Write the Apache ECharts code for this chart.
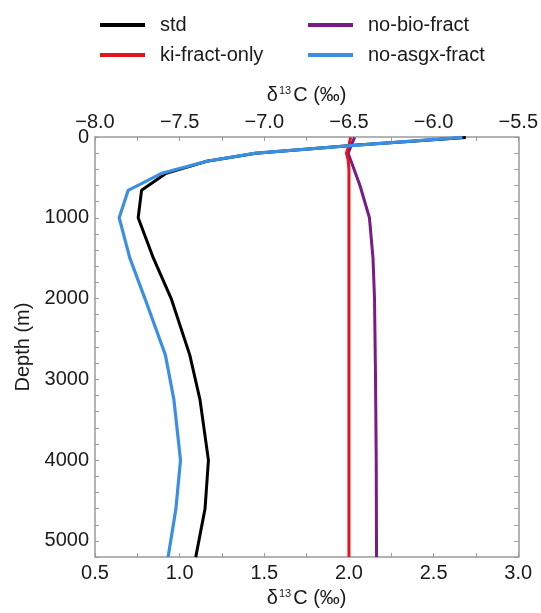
<!DOCTYPE html>
<html>
<head>
<meta charset="utf-8">
<script src="https://cdn.jsdelivr.net/npm/echarts@6/dist/echarts.min.js"></script>
<style>html,body{margin:0;padding:0;background:#fff;}#c{width:541px;height:613px;}</style>
</head>
<body>
<div id="c"></div>
<script>
// ---- data ----
const stdDepth = [5, 100, 200, 300, 450, 660, 1000, 1500, 2000, 2700, 3250, 4000, 4600, 5200];
const stdVals  = [2.69, 2.05, 1.45, 1.16, 0.92, 0.775, 0.755, 0.845, 0.95, 1.06, 1.12, 1.17, 1.15, 1.095];

const asgxDepth = [5, 100, 200, 300, 450, 660, 1000, 1500, 2000, 2700, 3250, 4000, 4600, 5200];
const asgxVals  = [2.67, 2.05, 1.45, 1.16, 0.893, 0.696, 0.643, 0.706, 0.795, 0.916, 0.966, 1.005, 0.978, 0.932];

const kiDepth = [5, 100, 200, 280, 400, 1000, 3000, 5200];
const kiVals  = [2.01, 2.0, 1.985, 1.995, 2.0, 2.0, 2.0, 2.0];

const bioDepth = [5, 200, 360, 600, 1000, 1500, 2000, 3000, 4000, 5200];
const bioVals  = [2.033, 1.995, 2.023, 2.065, 2.121, 2.142, 2.151, 2.157, 2.161, 2.163];

const bottomTicks = [0.5, 1.0, 1.5, 2.0, 2.5, 3.0];
const topTicks = [-8.0, -7.5, -7.0, -6.5, -6.0, -5.5];
const depthTicks = [0, 1000, 2000, 3000, 4000, 5000];

function pairs(xs, ds) { return xs.map((v, i) => [v, ds[i]]); }

const FONT = 'Liberation Sans, Arial, sans-serif';
const FS = 20;
const axisGray = '#9a9a9a';
const txt = '#1a1a1a';
const nameRich = {
  a: { fontSize: FS, fontFamily: FONT, color: txt },
  s: { fontSize: 11, fontFamily: FONT, color: txt, verticalAlign: 'top', padding: [0, 2, 9, 1] }
};

const chart = echarts.init(document.getElementById('c'), null, { renderer: 'canvas' });

const commonX = {
  type: 'value',
  interval: 0.5,
  axisLine: { show: true, onZero: false, lineStyle: { color: axisGray, width: 1.5 } },
  axisTick: { show: true, inside: true, length: 4, lineStyle: { color: axisGray, width: 1 } },
  minorTick: { show: true, splitNumber: 2, length: 4, lineStyle: { color: axisGray, width: 1 } },
  splitLine: { show: false },
  nameLocation: 'middle',
  nameTextStyle: { rich: nameRich }
};

const legendText = { fontSize: FS, fontFamily: FONT, color: txt, lineHeight: 22, padding: [0, 0, 0, 10] };

chart.setOption({
  animation: false,
  backgroundColor: '#fff',
  grid: { left: 95, right: 22, top: 137, bottom: 53, containLabel: false },
  legend: [
    {
      left: 100, top: 14, padding: 0, orient: 'vertical', itemWidth: 45, itemHeight: 4, itemGap: 8, icon: 'rect',
      data: ['std', 'ki-fract-only'], textStyle: legendText
    },
    {
      left: 308, top: 14, padding: 0, orient: 'vertical', itemWidth: 45, itemHeight: 4, itemGap: 8, icon: 'rect',
      data: ['no-bio-fract', 'no-asgx-fract'], textStyle: legendText
    }
  ],
  xAxis: [
    Object.assign({}, commonX, {
      position: 'bottom', min: bottomTicks[0], max: bottomTicks[bottomTicks.length - 1],
      name: '{a|δ}{s|13}{a|C (‰)}', nameGap: 30,
      axisLabel: { margin: 6, fontSize: FS, fontFamily: FONT, color: txt, formatter: v => v.toFixed(1) }
    }),
    Object.assign({}, commonX, {
      position: 'top', min: topTicks[0], max: topTicks[topTicks.length - 1],
      name: '{a|δ}{s|13}{a|C (‰)}', nameGap: 32,
      axisLabel: { margin: 5, fontSize: FS, fontFamily: FONT, color: txt,
        formatter: v => (v < 0 ? '\u2212' + Math.abs(v).toFixed(1) : v.toFixed(1)) }
    })
  ],
  yAxis: [
    {
      type: 'value', inverse: true, min: 0, max: 5200, interval: 1000, position: 'left',
      name: 'Depth (m)', nameLocation: 'middle', nameGap: 57, nameRotate: 90,
      nameTextStyle: { fontSize: FS, fontFamily: FONT, color: txt },
      axisLine: { show: true, onZero: false, lineStyle: { color: axisGray, width: 1.5 } },
      axisTick: { show: true, inside: true, length: 4, lineStyle: { color: axisGray, width: 1 } },
      minorTick: { show: true, splitNumber: 5, length: 4, lineStyle: { color: axisGray, width: 1 } },
      splitLine: { show: false },
      axisLabel: { margin: 6, fontSize: FS, fontFamily: FONT, color: txt,
        formatter: v => (depthTicks.indexOf(v) >= 0 ? String(v) : '') }
    },
    {
      type: 'value', inverse: true, min: 0, max: 5200, interval: 1000, position: 'right',
      axisLine: { show: true, onZero: false, lineStyle: { color: axisGray, width: 1.5 } },
      axisTick: { show: true, inside: true, length: 4, lineStyle: { color: axisGray, width: 1 } },
      minorTick: { show: true, splitNumber: 5, length: 4, lineStyle: { color: axisGray, width: 1 } },
      splitLine: { show: false },
      axisLabel: { show: false }
    }
  ],
  series: [
    { name: 'std', type: 'line', data: pairs(stdVals, stdDepth), showSymbol: false, symbol: 'none',
      lineStyle: { color: '#000000', width: 3 }, itemStyle: { color: '#000000' }, z: 2 },
    { name: 'no-bio-fract', type: 'line', data: pairs(bioVals, bioDepth), showSymbol: false, symbol: 'none',
      lineStyle: { color: '#7a1a86', width: 3 }, itemStyle: { color: '#7a1a86' }, z: 3 },
    { name: 'ki-fract-only', type: 'line', data: pairs(kiVals, kiDepth), showSymbol: false, symbol: 'none',
      lineStyle: { color: '#e3141b', width: 3 }, itemStyle: { color: '#e3141b' }, z: 4 },
    { name: 'no-asgx-fract', type: 'line', data: pairs(asgxVals, asgxDepth), showSymbol: false, symbol: 'none',
      lineStyle: { color: '#3a8fe2', width: 3.2 }, itemStyle: { color: '#3a8fe2' }, z: 5 }
  ]
});
</script>
</body>
</html>
